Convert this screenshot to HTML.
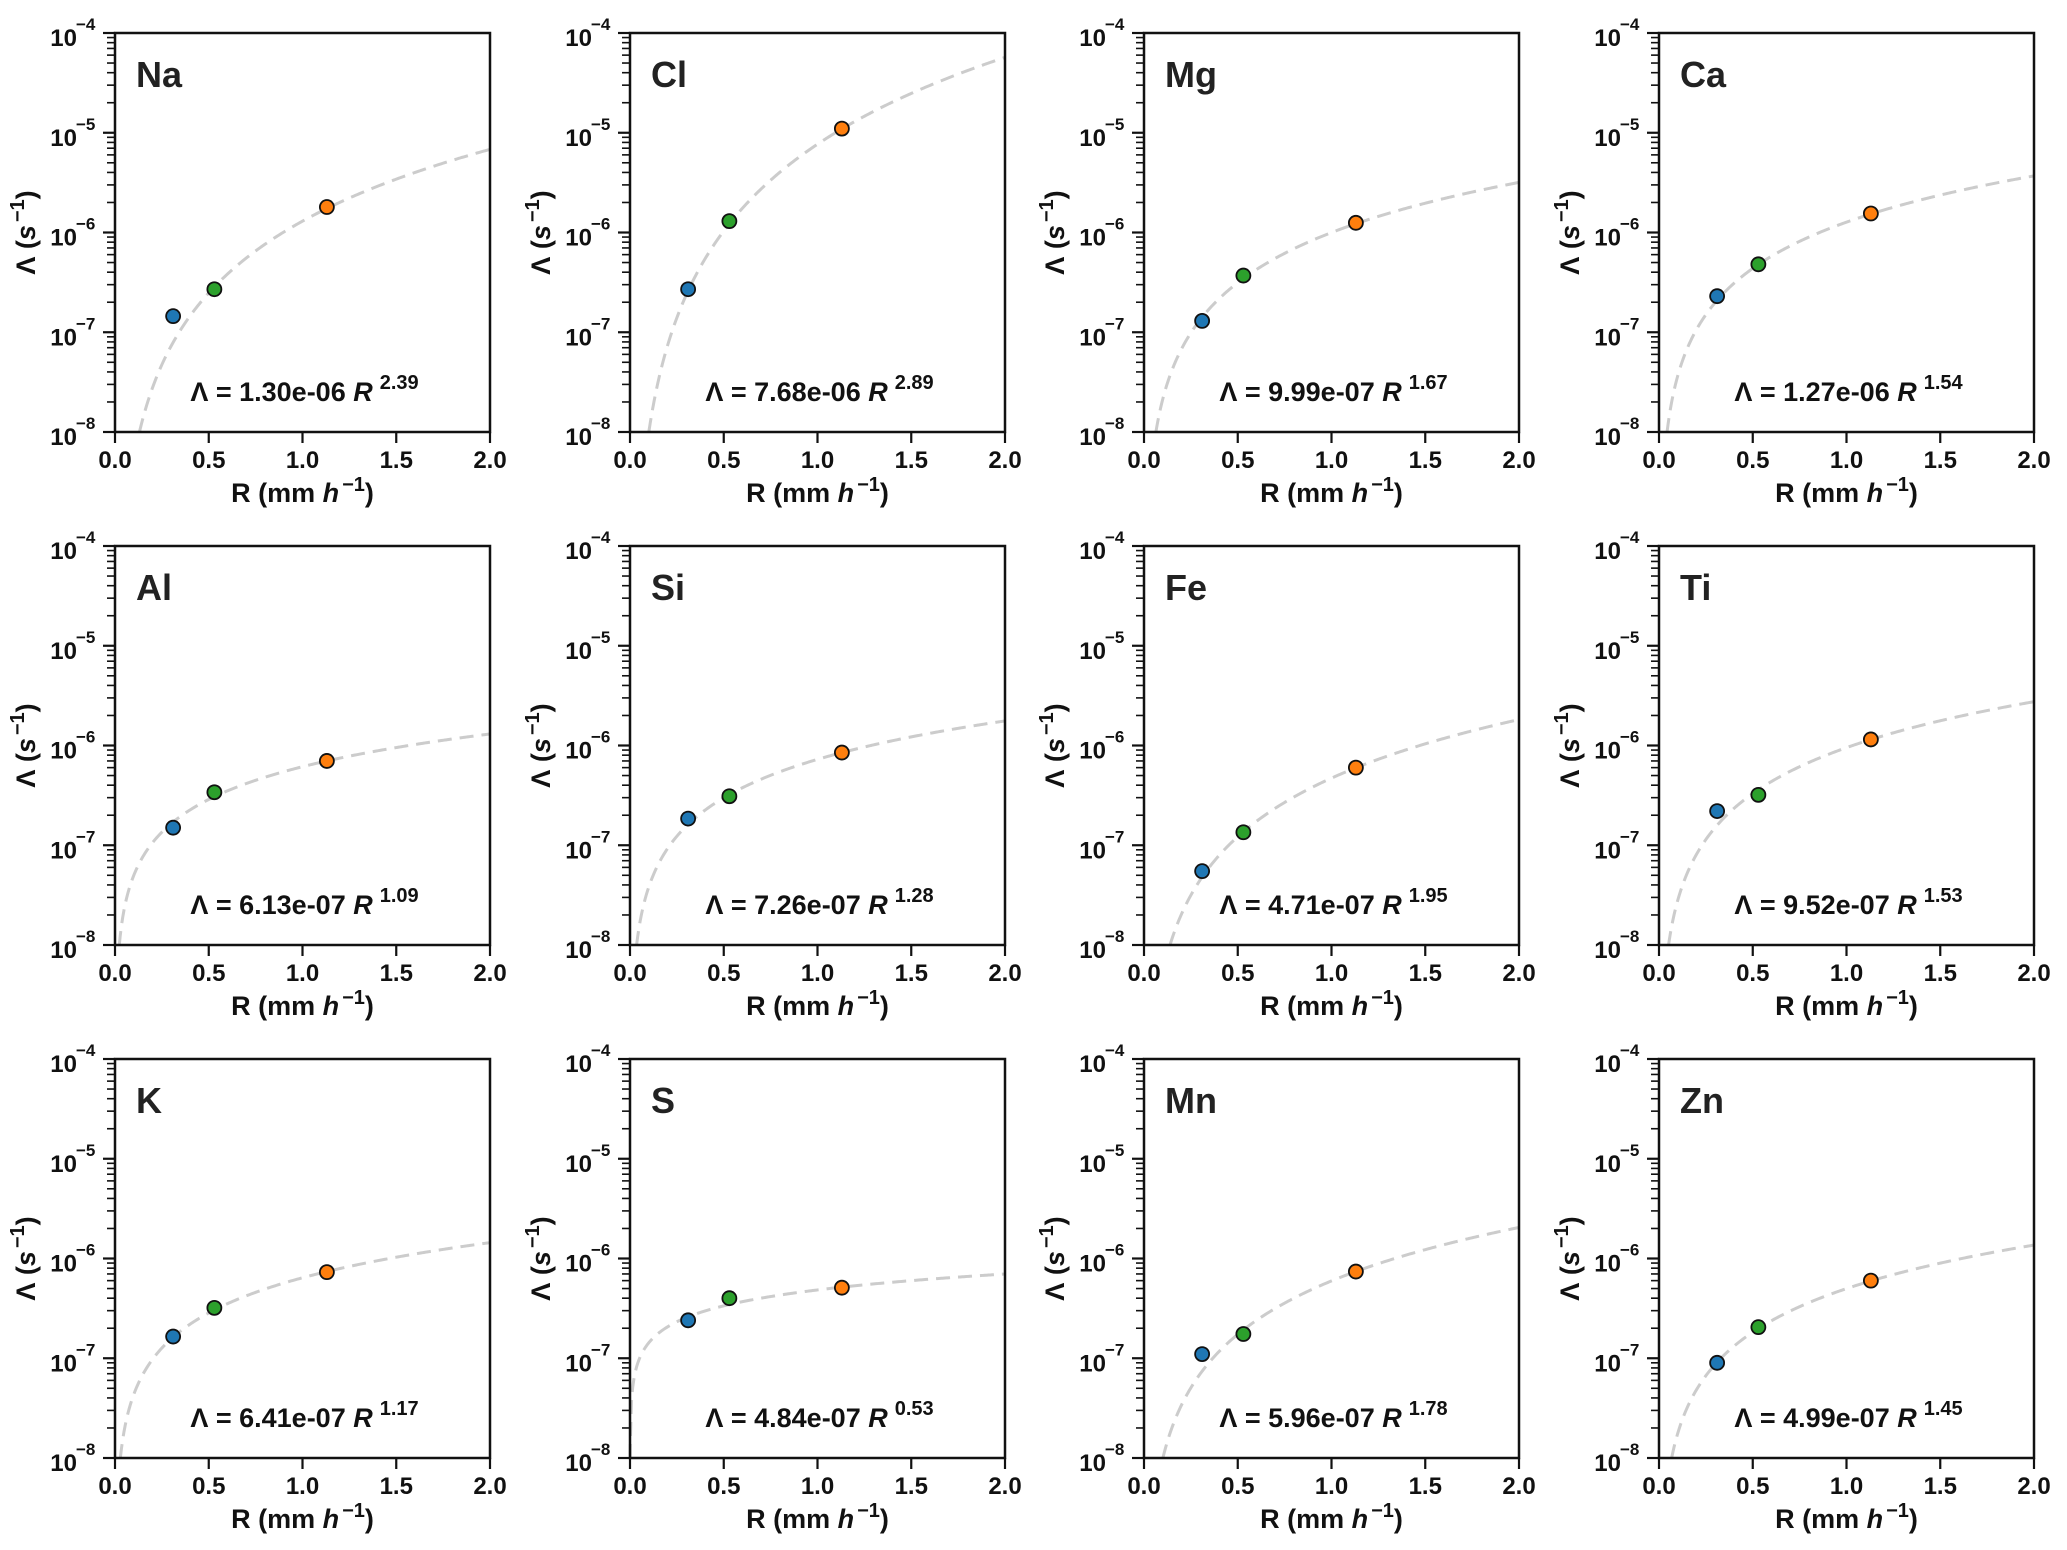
<!DOCTYPE html>
<html><head><meta charset="utf-8"><style>
html,body{margin:0;padding:0;background:#fff;}
svg{display:block;font-family:"Liberation Sans",sans-serif;font-weight:bold;}
</style></head><body>
<svg id="fig" width="2067" height="1550" viewBox="0 0 2067 1550" xmlns="http://www.w3.org/2000/svg"></svg>
<script>
const elements = ["Na","Cl","Mg","Ca","Al","Si","Fe","Ti","K","S","Mn","Zn"];
const coefA = [1.30e-06,7.68e-06,9.99e-07,1.27e-06,6.13e-07,7.26e-07,4.71e-07,9.52e-07,6.41e-07,4.84e-07,5.96e-07,4.99e-07];
const coefAText = ["1.30e-06","7.68e-06","9.99e-07","1.27e-06","6.13e-07","7.26e-07","4.71e-07","9.52e-07","6.41e-07","4.84e-07","5.96e-07","4.99e-07"];
const expB = [2.39,2.89,1.67,1.54,1.09,1.28,1.95,1.53,1.17,0.53,1.78,1.45];
const expBText = ["2.39","2.89","1.67","1.54","1.09","1.28","1.95","1.53","1.17","0.53","1.78","1.45"];
const rainRates = [0.31,0.53,1.13];
const bluePts = [1.45e-7,2.7e-7,1.3e-7,2.3e-7,1.5e-7,1.85e-7,5.5e-8,2.2e-7,1.65e-7,2.4e-7,1.1e-7,9e-8];
const greenPts = [2.7e-7,1.3e-6,3.7e-7,4.8e-7,3.4e-7,3.1e-7,1.35e-7,3.2e-7,3.2e-7,4e-7,1.75e-7,2.05e-7];
const orangePts = [1.8e-6,1.1e-5,1.25e-6,1.55e-6,7e-7,8.5e-7,6e-7,1.15e-6,7.3e-7,5.1e-7,7.4e-7,6e-7];
const xTicks = [0,0.5,1.0,1.5,2.0];
const xTickLabels = ["0.0","0.5","1.0","1.5","2.0"];
const yDecades = [-8,-7,-6,-5,-4];
const ptColors = ["#1f77b4","#2ca02c","#ff7f0e"];

const NS="http://www.w3.org/2000/svg";
const svg=document.getElementById('fig');
function mk(tag,attrs,parent){const e=document.createElementNS(NS,tag);for(const k in attrs)e.setAttribute(k,attrs[k]);(parent||svg).appendChild(e);return e;}
const W=375,H=399,lefts=[115,630,1144,1659],tops=[33,546,1059];

elements.forEach((el,i)=>{
  const L=lefts[i%4],T=tops[Math.floor(i/4)];
  const xs=v=>L+v/2*W;
  const ys=v=>T+H-(Math.log10(v)+8)/4*H;
  const g=mk('g',{});
  
  
  let d='';const n=300;let started=false;
  for(let k=0;k<=n;k++){const r=0.001+k*(2-0.001)/n;const v=coefA[i]*Math.pow(r,expB[i]);if(v<1e-8)continue;
    const y=ys(v);d+=(started?'L':'M')+xs(r).toFixed(2)+','+y.toFixed(2);started=true;}
  const r0=Math.pow(1e-8/coefA[i],1/expB[i]);
  if(r0>0&&r0<2) d='M'+xs(r0).toFixed(2)+','+ys(1e-8).toFixed(2)+d.replace(/^M/,'L');
  const c=mk('path',{d:d,fill:'none',stroke:'#cccccc','stroke-width':3,'stroke-dasharray':'14,8'},g);
  
  
  [bluePts,greenPts,orangePts].forEach((arr,j)=>{
    const p=mk('circle',{cx:xs(rainRates[j]),cy:ys(arr[i]),r:7,fill:ptColors[j],stroke:'#111','stroke-width':1.8},g);
    
    
  });
  const fr=mk('rect',{x:L,y:T,width:W,height:H,fill:'none',stroke:'#111','stroke-width':2.5},g);
  
  
  xTicks.forEach((t,k)=>{
    mk('line',{x1:xs(t),x2:xs(t),y1:T+H,y2:T+H+11,stroke:'#111','stroke-width':2.2},g);
    const tx=mk('text',{x:xs(t),y:T+H+36,'text-anchor':'middle','font-size':24,fill:'#111'},g);
    
    
    tx.textContent=xTickLabels[k];
  });
  yDecades.forEach(dc=>{
    const y=ys(Math.pow(10,dc));
    mk('line',{x1:L-12,x2:L,y1:y,y2:y,stroke:'#111','stroke-width':2.2},g);
    const tx=mk('text',{x:L-38,y:y+13,'text-anchor':'end','font-size':24,fill:'#111'},g);
    
    
    tx.textContent='10';
    const sp=mk('text',{x:L-39,y:y-3,'text-anchor':'start','font-size':17,fill:'#111'},g);
    
    
    sp.textContent='\u2212'+(-dc);
    if(dc<-4){for(let m=2;m<=9;m++){const yy=ys(m*Math.pow(10,dc));mk('line',{x1:L-8,x2:L,y1:yy,y2:yy,stroke:'#111','stroke-width':1.6},g);}}
  });
  const ti=mk('text',{x:L+21,y:T+54,'font-size':36,fill:'#222'},g);
  
  
  ti.textContent=el;
  const eq=mk('text',{x:L+W/2+2,y:T+368,'text-anchor':'middle','font-size':27,fill:'#111'},g);
  
  
  eq.innerHTML='\u039B = '+coefAText[i]+' <tspan font-style="italic">R</tspan><tspan dx="7" dy="-12" font-size="20">'+expBText[i]+'</tspan>';
  const xl=mk('text',{x:L+W/2,y:T+H+70,'text-anchor':'middle','font-size':27,fill:'#111'},g);
  
  
  xl.innerHTML='R (mm <tspan font-style="italic">h</tspan><tspan dx="3" dy="-11" font-size="20">\u22121</tspan><tspan dy="11">)</tspan>';
  const cy=T+H/2;
  const yx=L-80;
  const yl=mk('text',{x:yx,y:cy,'text-anchor':'middle','font-size':27,fill:'#111',transform:'rotate(-90 '+yx+' '+cy+')'},g);
  
  
  yl.innerHTML='\u039B (<tspan font-style="italic">s</tspan><tspan dx="3" dy="-11" font-size="20">\u22121</tspan><tspan dy="11">)</tspan>';
});
</script>
</body></html>
